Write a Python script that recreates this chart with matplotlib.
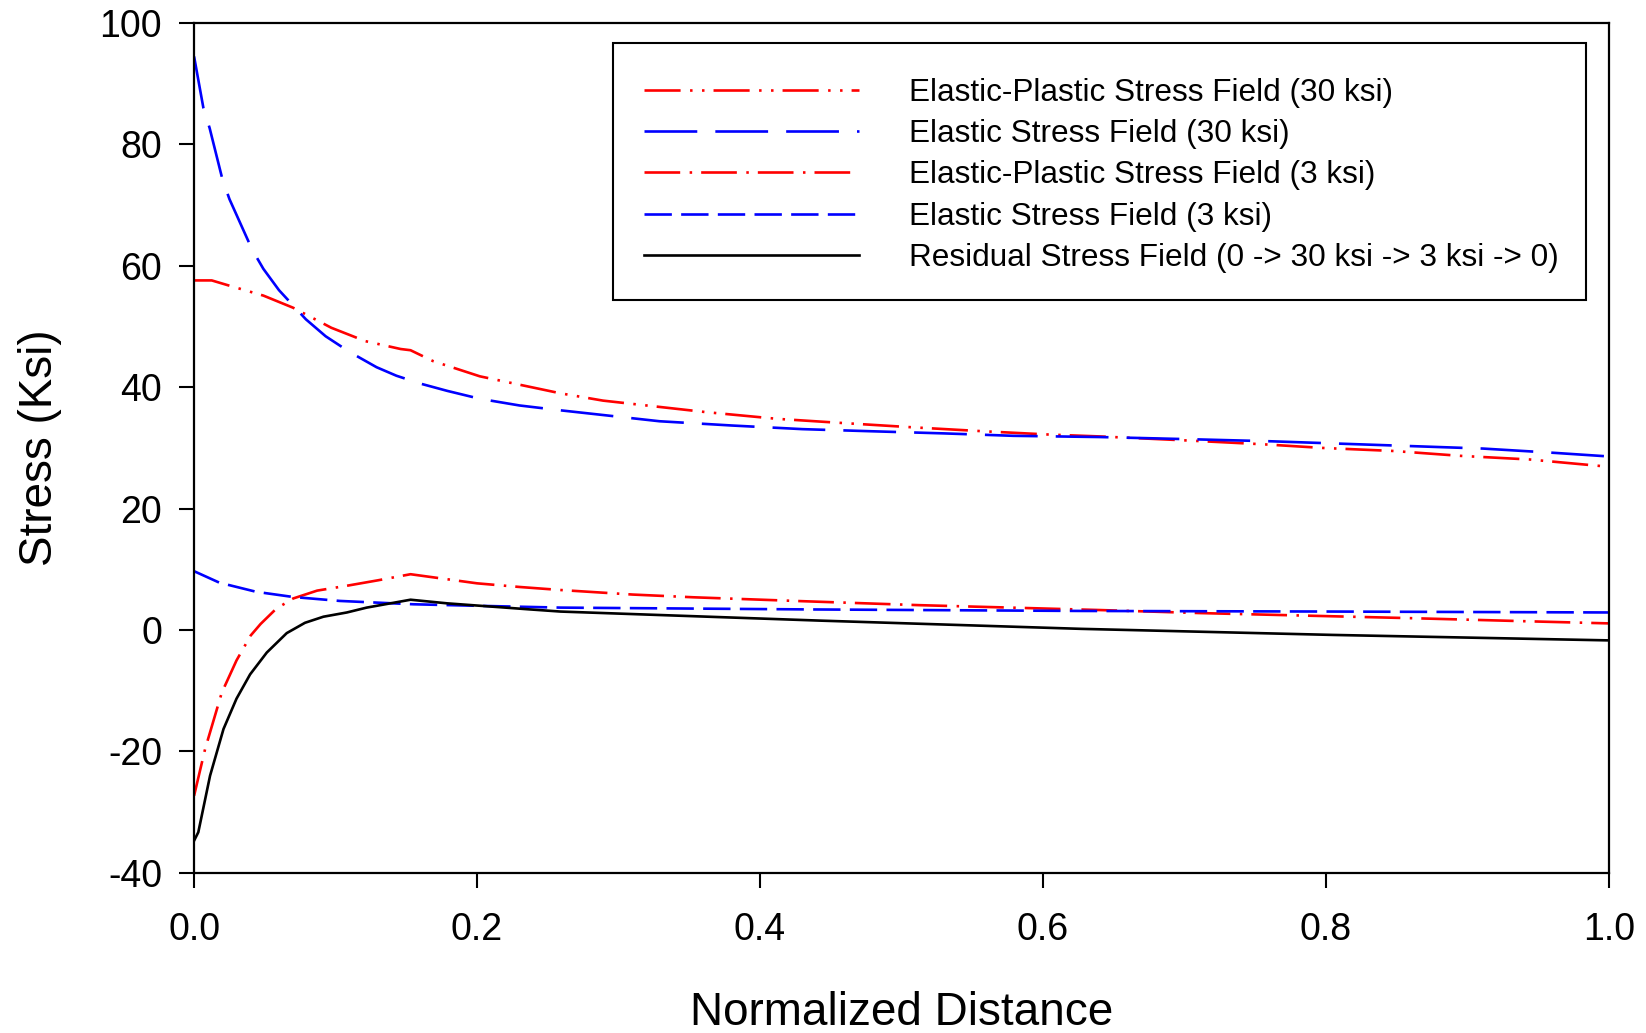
import matplotlib
matplotlib.use("Agg")
import matplotlib.pyplot as plt
from matplotlib.patches import Rectangle

# font setup (Arial look-alike)
plt.rcParams['font.family'] = ['Liberation Sans', 'DejaVu Sans']
plt.rcParams['lines.scale_dashes'] = False
plt.rcParams['axes.unicode_minus'] = False

# Elastic-Plastic Stress Field (30 ksi)
epp30_x = [0, 0.0125, 0.024, 0.049, 0.07, 0.097, 0.121, 0.146, 0.153, 0.169, 0.202, 0.259, 0.289,
           0.362, 0.412, 0.459, 0.508, 0.558, 0.605, 0.64, 0.705, 0.756, 0.798, 0.848, 0.895, 0.944, 1.0]
epp30_y = [57.6, 57.6, 56.8, 55.1, 53.1, 49.8, 47.6, 46.3, 46.1, 44.3, 41.8, 39.0, 37.8,
           35.9, 34.8, 34.1, 33.4, 32.75, 32.2, 31.9, 31.2, 30.6, 30.0, 29.5, 28.7, 28.1, 26.9]

# Elastic Stress Field (30 ksi)
es30_x = [0, 0.0066, 0.011, 0.02, 0.025, 0.041, 0.049, 0.06, 0.079, 0.093, 0.11, 0.129, 0.143, 0.16,
          0.179, 0.202, 0.23, 0.259, 0.329, 0.38, 0.43, 0.479, 0.53, 0.579, 0.64, 0.711, 0.761, 0.811,
          0.861, 0.911, 0.961, 1.0]
es30_y = [94.5, 86, 82.7, 74.3, 71, 62.7, 59.5, 56.0, 51.2, 48.4, 45.8, 43.3, 41.9, 40.6,
          39.4, 38.1, 37.0, 36.2, 34.4, 33.7, 33.1, 32.75, 32.4, 32.0, 31.8, 31.4, 31.1, 30.7,
          30.3, 29.9, 29.2, 28.6]

# Elastic-Plastic Stress Field (3 ksi)
epp3_x = [0, 0.0078, 0.0196, 0.03, 0.04, 0.047, 0.058, 0.07, 0.087, 0.108, 0.13, 0.153, 0.2, 0.23,
          0.259, 0.31, 0.353, 0.431, 0.513, 0.593, 0.64, 0.711, 0.782, 0.862, 0.942, 1.0]
epp3_y = [-27.3, -19.6, -10.3, -5.0, -0.9, 1.0, 3.5, 5.2, 6.5, 7.3, 8.2, 9.2, 7.7, 7.1,
          6.6, 5.85, 5.4, 4.75, 4.1, 3.6, 3.3, 2.8, 2.4, 1.95, 1.45, 1.1]

# Elastic Stress Field (3 ksi)
es3_x = [0, 0.018, 0.044, 0.07, 0.103, 0.155, 0.2, 0.259, 0.435, 0.627, 0.805, 1.0]
es3_y = [9.7, 7.8, 6.3, 5.45, 4.8, 4.25, 4.0, 3.7, 3.4, 3.15, 3.05, 2.9]

# Residual Stress Field
res_x = [0, 0.003, 0.0113, 0.0208, 0.03, 0.0396, 0.0514, 0.0655, 0.0784, 0.0914, 0.108, 0.122,
         0.153, 0.179, 0.2375, 0.259, 0.442, 0.627, 0.805, 1.0]
res_y = [-34.7, -33.3, -24, -16.3, -11.3, -7.3, -3.7, -0.5, 1.2, 2.2, 2.9, 3.7,
         5.0, 4.4, 3.4, 3.05, 1.56, 0.2, -0.8, -1.7]

labels = ["Elastic-Plastic Stress Field (30 ksi)",
          "Elastic Stress Field (30 ksi)",
          "Elastic-Plastic Stress Field (3 ksi)",
          "Elastic Stress Field (3 ksi)",
          "Residual Stress Field (0 -> 30 ksi -> 3 ksi -> 0)"]
xticks = [0.0, 0.2, 0.4, 0.6, 0.8, 1.0]
yticks = [-40, -20, 0, 20, 40, 60, 80, 100]

fig = plt.figure(figsize=(16.46, 10.33), dpi=100)
ax = fig.add_axes([0.1179, 0.155, 0.9775 - 0.1179, 0.9777 - 0.155])

lw = 1.9
ax.plot(epp30_x, epp30_y, color='red', lw=lw, dashes=(26, 6.8, 1.8, 6.8, 1.8, 6.5), label=labels[0])
ax.plot(es30_x, es30_y, color='blue', lw=lw, dashes=(38, 13), label=labels[1])
ax.plot(epp3_x, epp3_y, color='red', lw=lw, dashes=(25.7, 6.8, 1.8, 6.5), label=labels[2])
ax.plot(es3_x, es3_y, color='blue', lw=lw, dashes=(19.7, 6.7), label=labels[3])
ax.plot(res_x, res_y, color='black', lw=lw, label=labels[4])

ax.set_xlim(0, 1)
ax.set_ylim(-40, 100)
ax.set_xticks(xticks)
ax.set_yticks(yticks)
ax.set_xticklabels(["%.1f" % t for t in xticks])
ax.tick_params(direction='out', length=11, width=1.5, labelsize=27, top=False, right=False)
ax.tick_params(axis='x', pad=17)
ax.tick_params(axis='y', pad=12)
for s in ax.spines.values():
    s.set_linewidth(1.6)

ax.set_xlabel("Normalized Distance", fontsize=33, labelpad=31)
ax.set_ylabel("Stress (Ksi)", fontsize=33, labelpad=27)

# legend without its own frame; frame drawn below with a bit more room on top
leg = ax.legend(loc='upper right', bbox_to_anchor=(0.9835, 0.9674), fontsize=22.7, frameon=False,
                handlelength=6.8, handletextpad=1.6,
                borderpad=0.85, labelspacing=0.36, borderaxespad=0)

fig.canvas.draw()
bb = leg.get_window_extent()
pad_top, pad_left = 7.5, 4  # pixels
frame = Rectangle((bb.x0 - pad_left, bb.y0), bb.width + pad_left, bb.height + pad_top,
                  transform=None, fill=False, edgecolor='black', linewidth=1.5, zorder=6)
fig.patches.append(frame)

fig.savefig("out.png", dpi=100)
